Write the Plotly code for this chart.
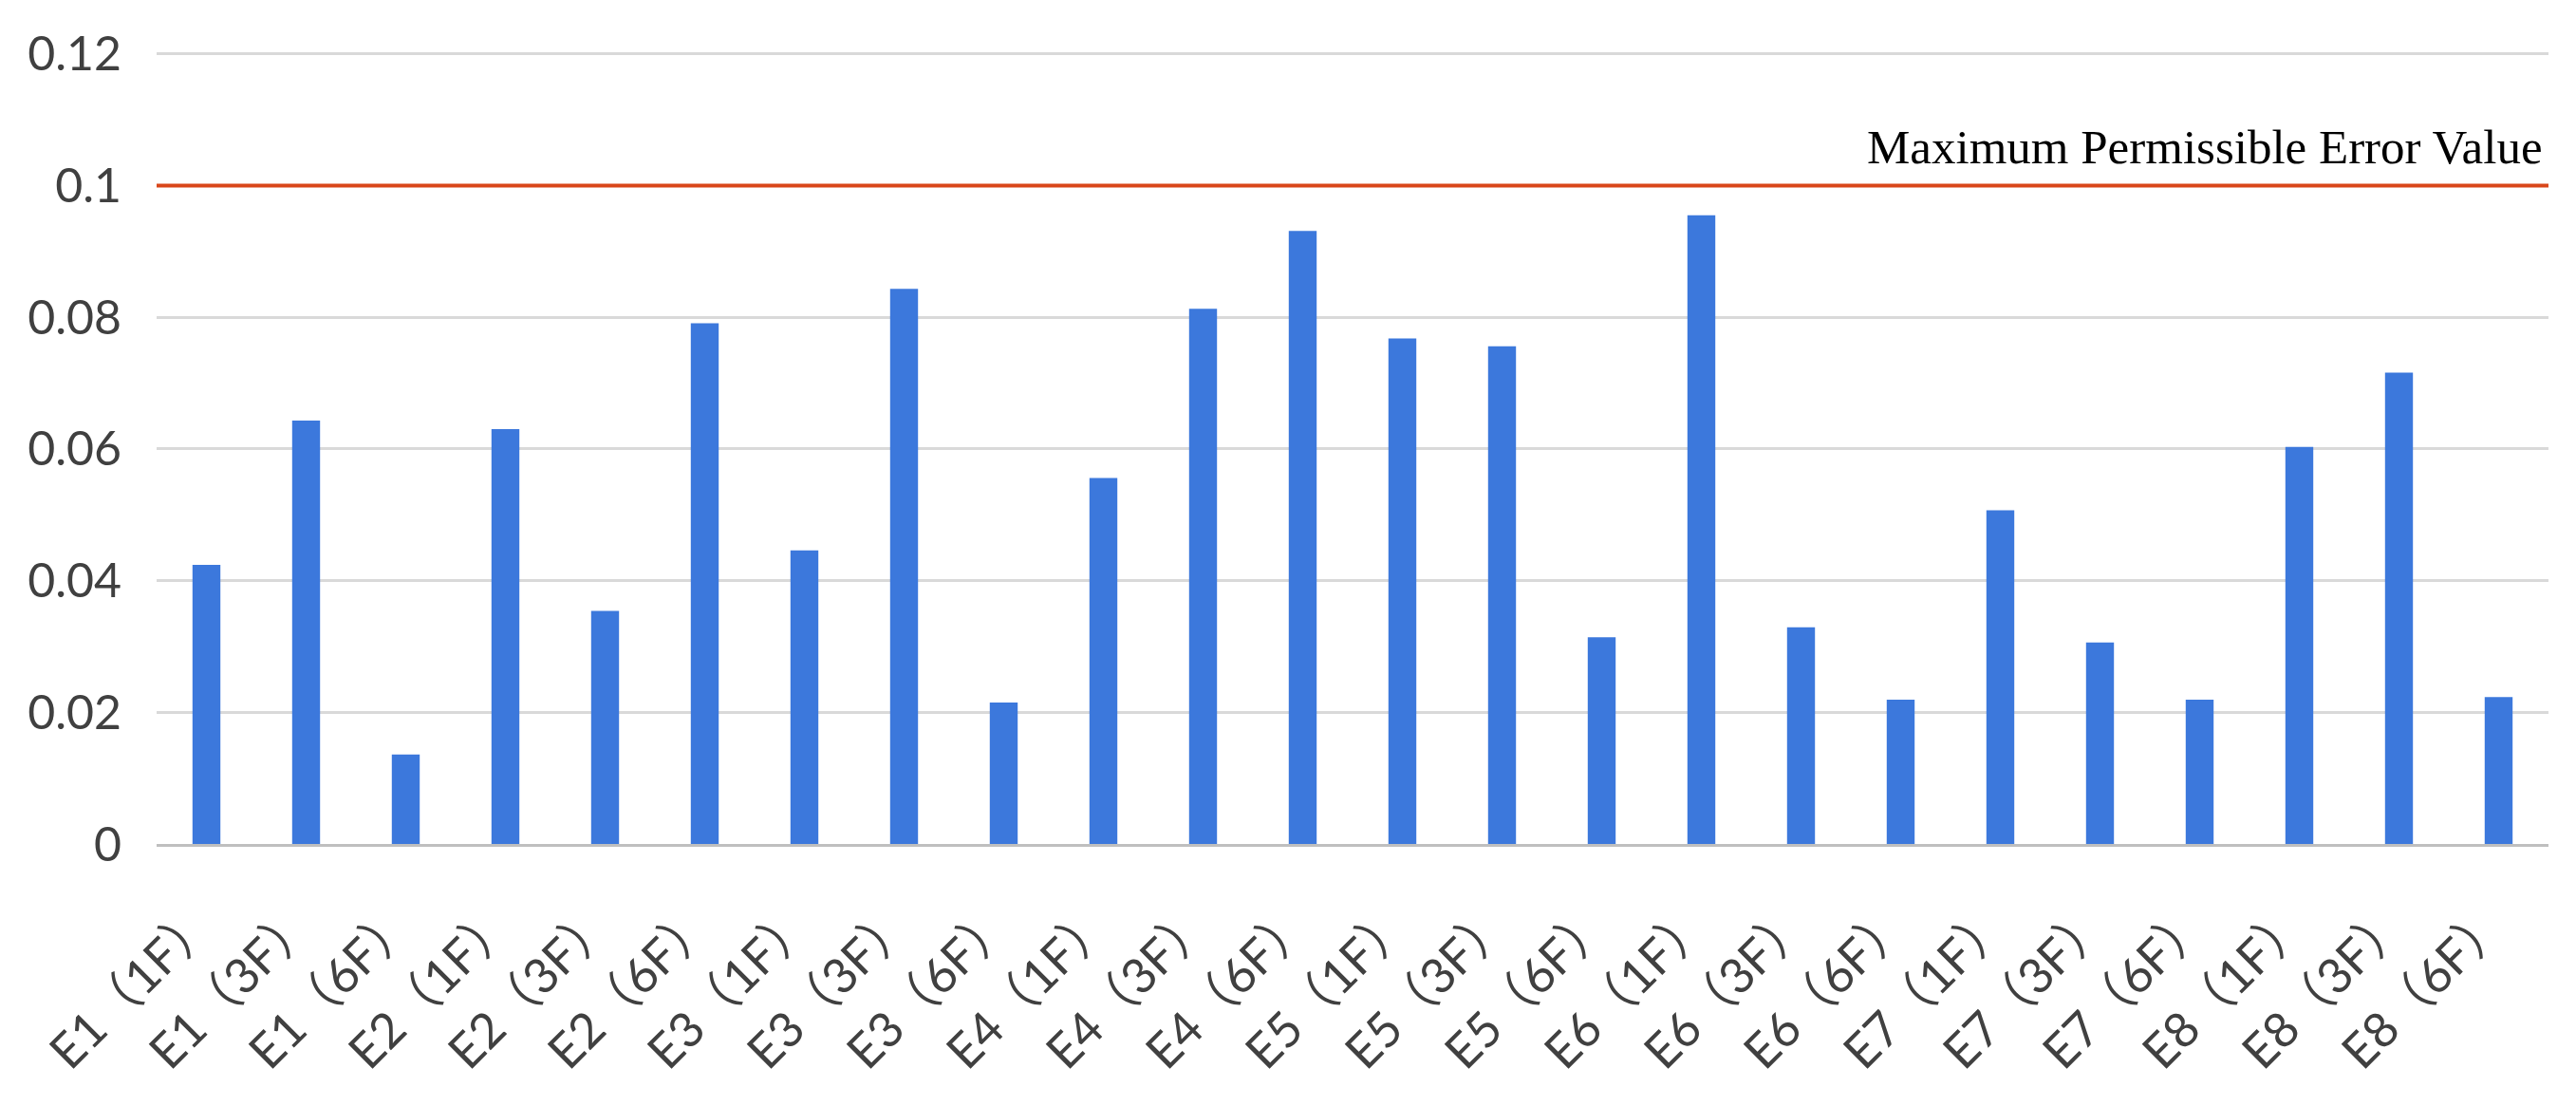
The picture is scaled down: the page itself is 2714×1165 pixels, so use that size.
import plotly.graph_objects as go

categories = [
    "E1（1F）", "E1（3F）", "E1（6F）",
    "E2（1F）", "E2（3F）", "E2（6F）",
    "E3（1F）", "E3（3F）", "E3（6F）",
    "E4（1F）", "E4（3F）", "E4（6F）",
    "E5（1F）", "E5（3F）", "E5（6F）",
    "E6（1F）", "E6（3F）", "E6（6F）",
    "E7（1F）", "E7（3F）", "E7（6F）",
    "E8（1F）", "E8（3F）", "E8（6F）",
]
error_values = [
    0.0424, 0.0643, 0.0136,
    0.0630, 0.0354, 0.0791,
    0.0446, 0.0843, 0.0215,
    0.0556, 0.0813, 0.0931,
    0.0768, 0.0756, 0.0314,
    0.0955, 0.0329, 0.0219,
    0.0507, 0.0306, 0.0219,
    0.0603, 0.0716, 0.0223,
]
max_permissible_error = 0.1
y_ticks = [0, 0.02, 0.04, 0.06, 0.08, 0.1, 0.12]
y_tick_labels = ["0", "0.02", "0.04", "0.06", "0.08", "0.1", "0.12"]

fig = go.Figure()

fig.add_trace(
    go.Bar(
        x=categories,
        y=error_values,
        marker=dict(color="#3C78DC", line=dict(width=0)),
        showlegend=False,
    )
)

# limit line across the whole plot width
fig.add_hline(
    y=max_permissible_error,
    line=dict(color="#D9461A", width=4),
    layer="above",
)

fig.add_annotation(
    x=1,
    xref="paper",
    y=max_permissible_error,
    yref="y",
    xanchor="right",
    yanchor="bottom",
    yshift=10,
    xshift=-4,
    text="Maximum Permissible Error Value",
    showarrow=False,
    font=dict(family="Liberation Serif, Times New Roman, serif", size=51, color="#000000"),
)

# page body has an 8px margin, so the figure is a bit smaller than the window
fig.update_layout(
    width=2698,
    height=1149,
    margin=dict(l=157, r=21, t=46, b=268),
    plot_bgcolor="white",
    paper_bgcolor="white",
    bargap=0.72,
    font=dict(family="Lato, Noto Sans CJK SC, sans-serif", size=50, color="#404040"),
)

fig.update_xaxes(
    tickangle=-45,
    showgrid=False,
    showline=True,
    linecolor="#BFBFBF",
    linewidth=3,
    ticks="",
    ticklabelstandoff=28,
    ticklabelshift=-6,
    tickfont=dict(family="Lato, Noto Sans CJK SC, sans-serif", size=51, color="#404040"),
)

fig.update_yaxes(
    range=[0, 0.1204],
    tickvals=y_ticks,
    ticktext=y_tick_labels,
    showgrid=True,
    gridcolor="#D9D9D9",
    gridwidth=3,
    zeroline=False,
    showline=False,
    ticks="",
    ticklabelstandoff=36,
    tickfont=dict(family="Lato, sans-serif", size=50, color="#404040"),
)

fig.write_html("out.html")
